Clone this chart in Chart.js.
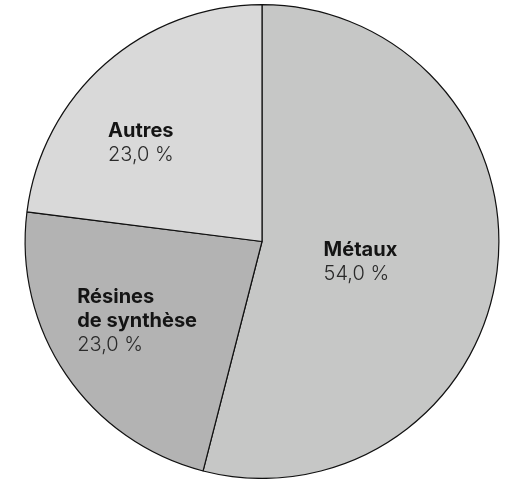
<!DOCTYPE html>
<html>
<head>
<meta charset="utf-8">
<script src="https://cdn.jsdelivr.net/npm/chart.js@4"></script>
<style>
  html, body { margin: 0; padding: 0; background: #fff; }
  #wrap { width: 506px; height: 479px; position: relative; }
</style>
</head>
<body>
<div id="wrap"><canvas id="pie"></canvas></div>
<script>
// Data
const LABELS = [["Métaux"], ["Résines", "de synthèse"], ["Autres"]];
const VALUES = [54.0, 23.0, 23.0];
const VALUE_TEXT = ["54,0 %", "23,0 %", "23,0 %"];
const COLORS = ["#c6c7c6", "#b3b3b3", "#d9d9d9"];

// label anchor (left, first baseline) as fraction of radius from the pie centre
const LABEL_POS = [
  { dx: 0.26, dy: 0.06 },
  { dx: -0.78, dy: 0.26 },
  { dx: -0.65, dy: -0.44 },
];

const sliceLabels = {
  id: "sliceLabels",
  afterDatasetsDraw(chart) {
    const ctx = chart.ctx;
    const arc0 = chart.getDatasetMeta(0).data[0];
    const cx = arc0.x, cy = arc0.y, r = arc0.outerRadius;
    ctx.save();
    ctx.textAlign = "left";
    ctx.textBaseline = "alphabetic";
    LABELS.forEach((lines, i) => {
      const x = cx + LABEL_POS[i].dx * r;
      let y = cy + LABEL_POS[i].dy * r;
      ctx.font = "bold 20px Inter, 'Noto Sans', sans-serif";
      ctx.fillStyle = "#141414";
      lines.forEach((line) => {
        ctx.fillText(line, x, y);
        y += 24;
      });
      ctx.font = "300 20px Inter, 'Noto Sans', sans-serif";
      ctx.fillStyle = "#2a2a2a";
      ctx.fillText(VALUE_TEXT[i], x, y);
    });
    ctx.restore();
  },
};

new Chart(document.getElementById("pie"), {
  type: "pie",
  data: {
    labels: LABELS.map((l) => l.join(" ")),
    datasets: [{
      data: VALUES,
      backgroundColor: COLORS,
      borderColor: "#111",
      borderWidth: 1.2,
      hoverOffset: 0,
    }],
  },
  options: {
    responsive: true,
    maintainAspectRatio: false,
    animation: false,
    layout: { padding: { left: 24, right: 6, top: 4, bottom: 0 } },
    plugins: {
      legend: { display: false },
      tooltip: { enabled: false },
    },
  },
  plugins: [sliceLabels],
});
</script>
</body>
</html>
